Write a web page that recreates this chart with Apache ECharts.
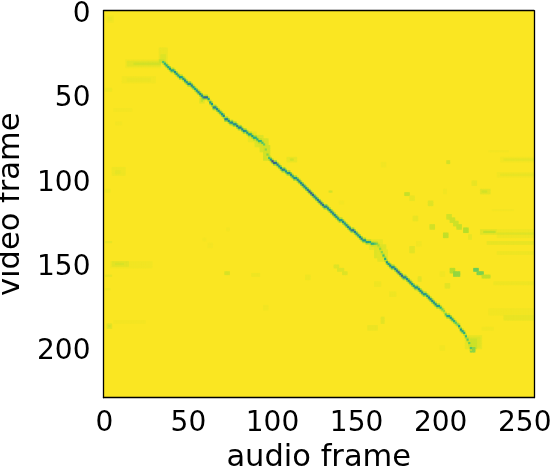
<!DOCTYPE html>
<html>
<head>
<meta charset="utf-8">
<script src="https://cdn.jsdelivr.net/npm/echarts@6/dist/echarts.min.js"></script>
<style>
  html, body { margin: 0; padding: 0; background: #fff; }
  #chart { width: 554px; height: 471px; }
</style>
</head>
<body>
<div id="chart"></div>
<script>
const audioCount = 256
const videoCount = 230
const tickStep = 50

// strongest similarity per audio frame, starting at audio frame 35
const ridgeStart = 35
const ridgeVideo = [
  30,31,32,33,34,35,35,36,37,38,
  39,39,40,41,42,43,43,44,45,46,
  47,48,49,50,51,51,51,52,54,55,
  57,57,58,59,60,61,62,64,64,65,
  66,66,67,67,68,69,69,70,71,71,
  72,73,73,74,75,75,76,77,77,78,
  79,82,85,87,88,89,90,90,91,92,
  93,94,94,95,96,96,97,98,99,99,
  100,101,102,103,104,105,106,107,108,109,
  110,111,112,113,114,115,116,116,117,118,
  119,120,121,122,123,124,124,125,126,127,
  128,129,130,130,131,132,133,134,135,136,
  136,137,137,137,138,138,138,138,139,141,
  143,145,147,149,150,151,152,152,153,154,
  155,156,157,158,158,159,160,161,162,163,
  164,164,165,166,167,168,168,169,170,171,
  172,173,174,175,175,176,177,178,180,181,
  181,182,183,184,185,186,187,189,190,191,
  193,195,197,200
]
const ridgeValue = [
  .7,.6,.55,.55,.5,.5,.55,.45,.48,.52,
  .48,.52,.48,.42,.48,.42,.44,.38,.48,.52,
  .48,.42,.44,.42,.38,.25,.3,.52,.48,.48,
  .42,.38,.42,.48,.52,.48,.42,.38,.42,.42,
  .48,.42,.48,.42,.38,.42,.38,.42,.42,.48,
  .48,.52,.52,.52,.58,.58,.58,.62,.62,.68,
  .75,.82,.8,.68,.48,.15,.22,.3,.38,.48,
  .42,.38,.42,.48,.48,.42,.42,.48,.42,.48,
  .42,.38,.42,.38,.38,.42,.38,.18,.25,.25,
  .38,.38,.38,.25,.3,.3,.38,.38,.42,.42,
  .38,.42,.38,.42,.48,.48,.48,.42,.48,.42,
  .42,.38,.38,.3,.38,.42,.48,.42,.38,.48,
  .48,.52,.52,.58,.58,.6,.7,.78,.85,.82,
  .8,.68,.58,.48,.48,.42,.42,.42,.38,.38,
  .25,.3,.25,.38,.38,.42,.42,.42,.48,.48,
  .42,.48,.42,.42,.42,.48,.48,.48,.42,.42,
  .42,.48,.42,.48,.52,.62,.75,.82,.7,.52,
  .52,.48,.52,.58,.7,.75,.52,.48,.52,.58,
  .65,.72,.75,.7
]
// value of the cells just above and below the ridge
const ridgeSide = [
  .93,.9,.88,.88,.87,.87,.88,.86,.86,.88,
  .86,.88,.86,.84,.86,.84,.84,.83,.86,.88,
  .86,.84,.84,.84,.84,.88,.88,.88,.86,.86,
  .84,.83,.84,.86,.88,.86,.84,.83,.84,.84,
  .86,.84,.86,.84,.83,.84,.83,.84,.84,.86,
  .86,.88,.88,.88,.88,.88,.88,.9,.9,.91,
  .93,.93,.93,.9,.88,.84,.84,.84,.84,.86,
  .84,.83,.84,.86,.86,.84,.84,.86,.84,.86,
  .84,.83,.84,.83,.83,.84,.83,.82,.83,.83,
  .83,.83,.83,.82,.83,.83,.83,.83,.84,.84,
  .83,.84,.83,.84,.86,.86,.86,.84,.86,.84,
  .84,.83,.83,.83,.83,.84,.86,.84,.83,.86,
  .86,.88,.9,.91,.91,.91,.93,.93,.93,.93,
  .93,.91,.88,.86,.86,.84,.84,.84,.83,.83,
  .82,.83,.82,.83,.83,.84,.84,.84,.86,.86,
  .84,.86,.84,.84,.84,.86,.86,.86,.84,.84,
  .84,.86,.84,.86,.88,.91,.93,.94,.91,.88,
  .88,.86,.88,.9,.91,.93,.88,.86,.88,.9,
  .9,.91,.93,.9
]

// weaker patches, palest first: audio from, audio to, video from, video to, value
const patches = [
  // left edge and early streaks
  [13,33,29,33,.985],[14,33,30,32,.96],[18,33,31,31,.93],
  [33,37,22,30,.975],[34,36,26,30,.95],[33,35,29,30,.92],
  [11,30,39,42,.985],[14,27,40,41,.975],
  [2,5,3,6,.985],[3,4,4,5,.975],[1,4,46,47,.98],[6,16,58,59,.99],[7,10,66,67,.99],
  [5,12,93,97,.98],[7,9,95,96,.965],[1,3,106,107,.98],[1,4,137,137,.97],
  [4,28,149,152,.985],[5,14,149,151,.96],[7,11,150,150,.94],[1,4,157,157,.97],[1,3,165,165,.98],
  [6,24,184,185,.99],[2,4,186,188,.96],[3,3,187,187,.93],
  // small marks in the empty area
  [57,59,52,54,.96],[58,58,52,53,.9],[72,74,155,156,.94],[88,92,156,157,.98],[59,60,135,136,.99],
  [62,64,138,140,.99],[73,74,129,130,.99],[95,97,175,177,.985],[120,122,157,159,.98],
  [109,114,87,89,.97],[111,112,88,88,.93],[165,167,90,92,.985],[204,205,89,90,.93],[134,135,107,107,.93],
  [179,181,108,109,.91],[182,184,110,112,.97],[193,195,113,115,.95],[140,142,113,114,.99],
  [202,203,106,108,.985],[224,229,106,108,.96],[225,227,107,107,.93],[219,221,101,103,.97],[184,186,122,124,.97],
  [194,196,127,129,.93],[204,206,121,123,.93],[206,208,123,125,.92],[208,210,125,127,.92],
  [210,212,127,129,.91],[214,216,129,131,.88],[217,218,133,135,.97],[202,204,132,134,.9],
  [182,184,140,143,.96],[186,188,137,139,.985],[137,139,151,152,.95],[139,142,153,154,.95],
  [142,144,155,156,.95],[206,208,153,155,.88],[208,211,155,157,.82],
  [220,222,153,154,.75],[222,225,155,156,.78],[225,229,157,158,.9],[200,202,155,157,.985],
  [187,188,158,160,.96],[203,205,162,164,.96],[161,164,161,163,.98],[170,173,167,169,.98],
  [165,166,182,185,.96],[157,162,187,189,.975],[200,202,199,201,.985],
  // right edge streaks
  [229,240,83,83,.99],[236,255,87,89,.985],[238,255,88,88,.965],[234,255,96,98,.985],[236,255,97,97,.97],[231,243,118,118,.99],
  [224,233,130,132,.96],[226,232,131,131,.9],[234,255,130,134,.98],[234,255,132,132,.95],
  [228,255,137,138,.97],[234,255,143,144,.98],
  [232,255,161,162,.98],[229,255,177,180,.985],[238,255,181,183,.97],[225,231,188,189,.985],
  // broad halos on the ridge
  [86,90,72,77,.97],[90,94,74,80,.95],[93,97,76,83,.94],[95,98,80,88,.93],
  [158,165,136,141,.97],[161,167,139,146,.95],[163,168,142,148,.96],
  [215,224,193,200,.97],[217,223,194,199,.95],[218,221,195,200,.92],[218,220,200,202,.8]
]

const viridis = ['#440154', '#482878', '#3e4989', '#31688e', '#26828e', '#1f9e89', '#35b779', '#6ece58', '#b5de2b', '#fae622']

const cells = []
patches.forEach(p => {
  for (let a = p[0]; a <= p[1]; a++) {
    for (let v = p[2]; v <= p[3]; v++) cells.push([a, v, p[4]])
  }
})
ridgeVideo.forEach((v, i) => {
  const a = ridgeStart + i
  cells.push([a, v - 1, ridgeSide[i]])
  cells.push([a, v + 1, ridgeSide[i]])
})
ridgeVideo.forEach((v, i) => {
  cells.push([ridgeStart + i, v, ridgeValue[i]])
})

const audioFrames = Array.from({ length: audioCount }, (_, i) => String(i))
const videoFrames = Array.from({ length: videoCount }, (_, i) => String(i))
const everyStep = i => i % tickStep === 0

const fontFamily = '"DejaVu Sans"'
const frameLine = { show: true, onZero: false, lineStyle: { color: '#000', width: 1.3 } }
const tickStyle = { alignWithLabel: true, interval: (i) => everyStep(i), length: 5, lineStyle: { color: '#000', width: 1.3 } }

let myChart = echarts.init(document.getElementById('chart'), null, { renderer: 'canvas' })
myChart.setOption({
  animation: false,
  grid: {
    left: 103.5,
    top: 10.7,
    width: 430.5,
    height: 387,
    show: true,
    backgroundColor: '#fae622',
    borderWidth: 0,
    outerBoundsMode: 'none'
  },
  xAxis: [
    {
      type: 'category',
      data: audioFrames,
      z: 5,
      name: 'audio frame',
      nameLocation: 'middle',
      nameGap: 45,
      nameTextStyle: { color: '#000', fontSize: 30.5, fontFamily },
      axisLine: frameLine,
      axisTick: tickStyle,
      axisLabel: { interval: (i) => everyStep(i), color: '#000', fontSize: 28, fontFamily, margin: 12, hideOverlap: false },
      splitLine: { show: false }
    },
    {
      type: 'category',
      data: audioFrames,
      position: 'top',
      z: 5,
      axisLine: frameLine,
      axisTick: { show: false },
      axisLabel: { show: false },
      splitLine: { show: false }
    }
  ],
  yAxis: [
    {
      type: 'category',
      inverse: true,
      data: videoFrames,
      z: 5,
      name: 'video frame',
      nameLocation: 'middle',
      nameGap: 76,
      nameTextStyle: { color: '#000', fontSize: 30.5, fontFamily },
      axisLine: frameLine,
      axisTick: tickStyle,
      axisLabel: { interval: (i) => everyStep(i), color: '#000', fontSize: 28, fontFamily, margin: 13, verticalAlign: 'top', lineHeight: 7, hideOverlap: false },
      splitLine: { show: false }
    },
    {
      type: 'category',
      inverse: true,
      data: videoFrames,
      position: 'right',
      z: 5,
      axisLine: frameLine,
      axisTick: { show: false },
      axisLabel: { show: false },
      splitLine: { show: false }
    }
  ],
  visualMap: {
    show: false,
    type: 'continuous',
    min: -0.1,
    max: 1,
    dimension: 2,
    inRange: { color: viridis }
  },
  series: [
    {
      type: 'heatmap',
      data: cells,
      progressive: 0,
      emphasis: { disabled: true },
      itemStyle: { borderWidth: 0 }
    }
  ]
})
</script>
</body>
</html>
